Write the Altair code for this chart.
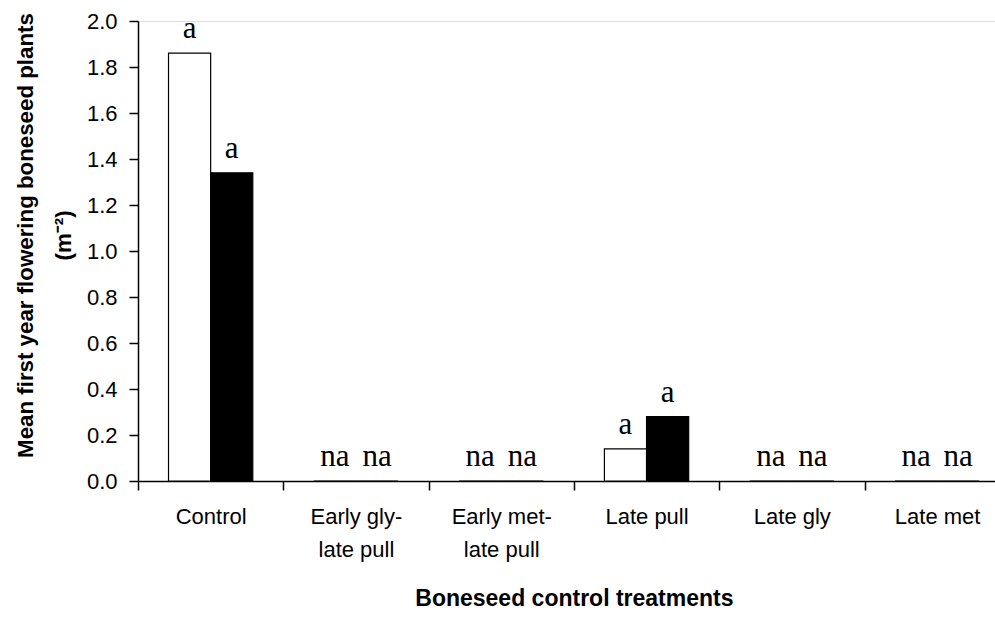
import altair as alt
import pandas as pd

categories = ["Control", "Early gly-late pull", "Early met-late pull", "Late pull", "Late gly", "Late met"]
series_names = ["Series 1", "Series 2"]
values_s1 = [1.86, 0.0, 0.0, 0.14, 0.0, 0.0]
values_s2 = [1.34, 0.0, 0.0, 0.28, 0.0, 0.0]
labels_s1 = ["a", "na", "na", "a", "na", "na"]
labels_s2 = ["a", "na", "na", "a", "na", "na"]

rows = []
for i, c in enumerate(categories):
    rows.append({"treatment": c, "series": series_names[0], "value": values_s1[i], "label": labels_s1[i]})
    rows.append({"treatment": c, "series": series_names[1], "value": values_s2[i], "label": labels_s2[i]})
df = pd.DataFrame(rows)

STEP = 145.3
RANGE = STEP * 6

x_enc = alt.X(
    "treatment:N",
    sort=categories,
    scale=alt.Scale(range=[0, RANGE], paddingInner=0.42, paddingOuter=0.21),
    axis=alt.Axis(
        title="Boneseed control treatments",
        titleFont="Liberation Sans", titleFontSize=23, titleFontWeight="bold",
        titleColor="black", titlePadding=27,
        labelFont="Liberation Sans", labelFontSize=22, labelColor="black",
        labelAngle=0, labelPadding=16, labelLineHeight=33,
        labelExpr="split(replace(datum.label, '-', '-|'), '|')",
        tickOffset=-STEP / 2, labelOffset=STEP / 2,
        tickSize=9, tickColor="black", tickWidth=1.5,
        domainColor="black", domainWidth=1.5,
    ),
)
xoff_enc = alt.XOffset("series:N", sort=series_names, scale=alt.Scale(paddingInner=0, paddingOuter=0))
y_enc = alt.Y(
    "value:Q",
    scale=alt.Scale(domain=[0, 2]),
    axis=alt.Axis(
        values=[0, 0.2, 0.4, 0.6, 0.8, 1.0, 1.2, 1.4, 1.6, 1.8, 2.0],
        format=".1f",
        title=["Mean first year flowering boneseed plants", "(m\u207b\u00b2)"],
        titleFont="Liberation Sans", titleFontSize=22.3, titleFontWeight="bold",
        titleColor="black", titleLineHeight=38,
        titleAngle=270, titleAlign="center", titleBaseline="middle",
        titleX=-113, titleY=214,
        labelFont="Liberation Sans", labelFontSize=22, labelColor="black",
        labelPadding=12, tickSize=9, tickColor="black", tickWidth=1.5,
        domainColor="black", domainWidth=1.5, grid=False,
    ),
)

bars = alt.Chart(df).mark_bar(stroke="black", strokeWidth=1.2).encode(
    x=x_enc,
    xOffset=xoff_enc,
    y=y_enc,
    fill=alt.Fill("series:N", sort=series_names,
                  scale=alt.Scale(domain=series_names, range=["white", "black"]), legend=None),
)

texts = alt.Chart(df).mark_text(
    font="Liberation Serif", fontSize=31, baseline="alphabetic", dy=-15, color="black"
).encode(
    x=x_enc,
    xOffset=xoff_enc,
    y=y_enc,
    text="label:N",
)

chart = alt.layer(bars, texts).properties(
    width=857,
    height=460,
    autosize=alt.AutoSizeParams(type="none"),
    padding={"left": 138, "top": 21, "right": 0, "bottom": 136},
).configure_view(stroke=None).configure(background="white")

chart.save("out.html", embed_options={"renderer": "svg", "actions": False})
